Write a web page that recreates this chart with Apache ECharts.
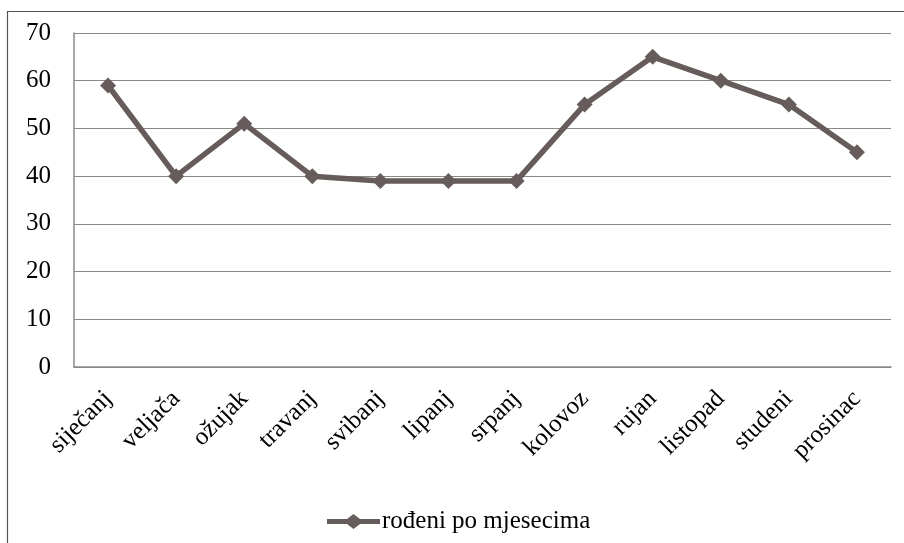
<!DOCTYPE html>
<html>
<head>
<meta charset="utf-8">
<script src="https://cdn.jsdelivr.net/npm/echarts@6/dist/echarts.min.js"></script>
<style>
html,body{margin:0;padding:0;background:#fff;}
#c{width:904px;height:543px;}
</style>
</head>
<body>
<div id="c"></div>
<script>
var categories = ['siječanj','veljača','ožujak','travanj','svibanj','lipanj','srpanj','kolovoz','rujan','listopad','studeni','prosinac'];
var seriesName = 'rođeni po mjesecima';
var values = [59, 40, 51, 40, 39, 39, 39, 55, 65, 60, 55, 45];
var yMin = 0, yMax = 70, yStep = 10;

var chart = echarts.init(document.getElementById('c'));
var font = '"Liberation Serif","Times New Roman",serif';
chart.setOption({
  animation: false,
  backgroundColor: '#fff',
  graphic: [{
    type: 'rect', left: 5, top: 9, shape: {width: 960, height: 600},
    style: {fill: 'none', stroke: '#555', lineWidth: 1.2}, silent: true, z: -1
  }],
  grid: {left: 74, top: 33, right: 13, bottom: 176, containLabel: false},
  legend: {
    bottom: 4, left: 322,
    itemWidth: 53, itemHeight: 15,
    itemGap: 2,
    textStyle: {fontFamily: font, fontSize: 25, color: '#000', padding: [0,0,0,-3]},
    data: [{name: seriesName, icon: 'path://M0,5 L20,5 L26.5,0 L33,5 L53,5 L53,10 L33,10 L26.5,15 L20,10 L0,10 Z'}]
  },
  xAxis: {
    type: 'category', data: categories, boundaryGap: true,
    axisLine: {show: true, lineStyle: {color: '#8c8888', width: 1.5}},
    axisTick: {show: false},
    axisLabel: {rotate: 45, interval: 0, margin: 28, fontFamily: font, fontSize: 25, color: '#000'}
  },
  yAxis: {
    type: 'value', min: yMin, max: yMax, interval: yStep,
    axisLine: {show: true, lineStyle: {color: '#8c8888', width: 1.5}},
    axisTick: {show: false},
    splitLine: {lineStyle: {color: '#8c8888', width: 1.2}},
    axisLabel: {margin: 23, fontFamily: font, fontSize: 25, color: '#000'}
  },
  series: [{
    name: seriesName, type: 'line', data: values,
    symbol: 'diamond', symbolSize: 16,
    lineStyle: {color: '#675c5c', width: 5.5},
    itemStyle: {color: '#675c5c'},
    emphasis: {disabled: true}
  }]
});
</script>
</body>
</html>
